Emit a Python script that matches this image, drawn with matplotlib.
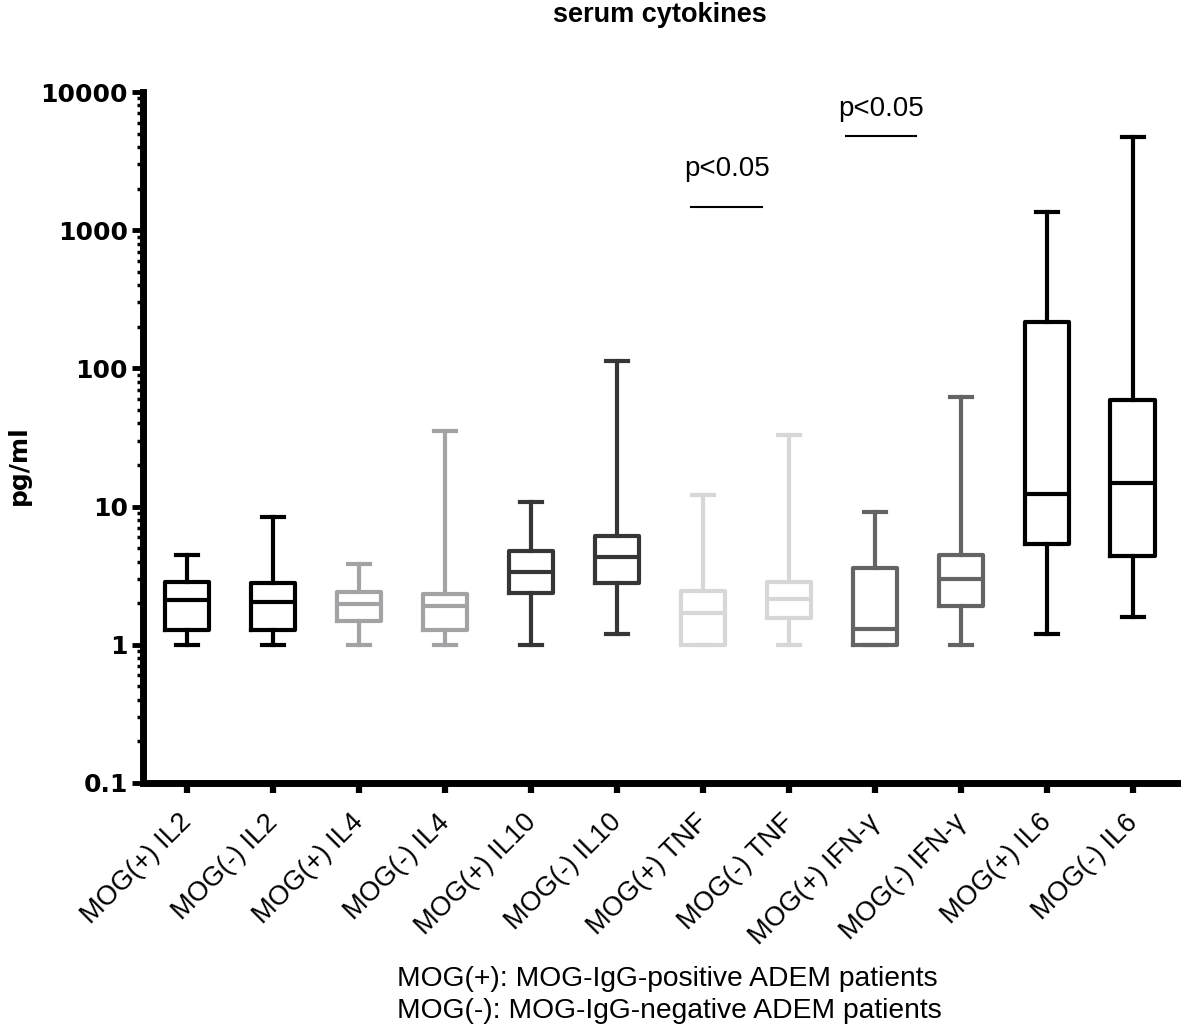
import matplotlib.pyplot as plt
import matplotlib.transforms as mtransforms
from matplotlib.ticker import LogLocator, FixedLocator, NullFormatter

# summary values (pg/ml)
labels = ['MOG(+) IL2', 'MOG(-) IL2', 'MOG(+) IL4', 'MOG(-) IL4',
          'MOG(+) IL10', 'MOG(-) IL10', 'MOG(+) TNF', 'MOG(-) TNF',
          'MOG(+) IFN-γ', 'MOG(-) IFN-γ', 'MOG(+) IL6', 'MOG(-) IL6']
whisker_low = [1.0, 1.0, 1.0, 1.0, 1.0, 1.2, 1.0, 1.0, 1.0, 1.0, 1.2, 1.6]
q1 = [1.28, 1.28, 1.49, 1.28, 2.37, 2.8, 1.0, 1.57, 1.0, 1.91, 5.4, 4.4]
median = [2.11, 2.04, 1.98, 1.91, 3.37, 4.32, 1.70, 2.15, 1.3, 3.0, 12.3, 14.8]
q3 = [2.85, 2.8, 2.41, 2.33, 4.77, 6.1, 2.45, 2.85, 3.6, 4.5, 218, 59]
whisker_high = [4.47, 8.4, 3.84, 35, 10.8, 113, 12.1, 33, 9.1, 62, 1360, 4730]
colors = ['#000000', '#000000', '#a3a3a5', '#a3a3a5', '#363636', '#363636',
          '#d7d7d7', '#d7d7d7', '#646464', '#646464', '#000000', '#000000']

# significance marks: (x start, x end, bar level, text level)
sig_bars = [(6.86, 7.69, 1480, 2780), (8.66, 9.48, 4800, 7540)]
sig_text = 'p<0.05'

footnote = ['MOG(+): MOG-IgG-positive ADEM patients',
            'MOG(-): MOG-IgG-negative ADEM patients']


def main():
    fig = plt.figure(figsize=(11.81, 10.27), dpi=100)
    ax = fig.add_axes([0.1211, 0.2376, 0.8789, 0.6728])

    stats = []
    for i in range(len(labels)):
        stats.append({'whislo': whisker_low[i], 'q1': q1[i], 'med': median[i],
                      'q3': q3[i], 'whishi': whisker_high[i],
                      'fliers': [], 'label': labels[i]})
    positions = list(range(1, len(labels) + 1))
    art = ax.bxp(stats, positions=positions, widths=0.52, capwidths=0.25,
                 showfliers=False, manage_ticks=False,
                 boxprops=dict(linewidth=3, solid_joinstyle='round'),
                 medianprops=dict(linewidth=3),
                 whiskerprops=dict(linewidth=3),
                 capprops=dict(linewidth=3))
    for i, c in enumerate(colors):
        art['boxes'][i].set_color(c)
        art['medians'][i].set_color(c)
        for k in (2 * i, 2 * i + 1):
            art['whiskers'][k].set_color(c)
            art['caps'][k].set_color(c)

    ax.set_yscale('log')
    ax.set_ylim(0.1, 10000)
    ax.set_xlim(0.488, 12.56)

    ax.yaxis.set_major_locator(FixedLocator([0.1, 1, 10, 100, 1000, 10000]))
    ax.set_yticklabels(['0.1', '1', '10', '100', '1000', '10000'],
                       fontsize=18, fontweight='bold', family='DejaVu Sans')
    ax.yaxis.set_minor_locator(LogLocator(base=10, subs=range(2, 10)))
    ax.yaxis.set_minor_formatter(NullFormatter())
    ax.tick_params(axis='y', which='major', length=8, width=3.5, pad=3)
    ax.tick_params(axis='y', which='minor', length=4, width=2.5)

    ax.set_xticks(positions)
    ax.set_xticklabels(labels, rotation=45, ha='right',
                       fontsize=19.5, family='Liberation Sans')
    ax.tick_params(axis='x', which='major', length=7, width=4.5, pad=4)
    ax.tick_params(axis='x', which='minor', length=0)
    shift = mtransforms.ScaledTranslation(0.10, -0.11, fig.dpi_scale_trans)
    for lab in ax.get_xticklabels():
        lab.set_transform(lab.get_transform() + shift)

    for side in ('top', 'right'):
        ax.spines[side].set_visible(False)
    for side in ('left', 'bottom'):
        ax.spines[side].set_linewidth(5)
    ax.spines['bottom'].set_capstyle('butt')

    ax.set_ylabel('pg/ml', fontsize=18, fontweight='bold',
                  family='DejaVu Sans')
    ax.yaxis.set_label_coords(-0.108, 0.46)

    for x0, x1, level, tlevel in sig_bars:
        ax.plot([x0, x1], [level, level], color='black', linewidth=1.5)
        ax.text((x0 + x1) / 2, tlevel, sig_text, ha='center',
                va='center', fontsize=20, family='Liberation Sans')

    fig.text(0.559, 0.985, 'serum cytokines', ha='center', va='center',
             fontsize=19.5, fontweight='bold', family='Liberation Sans')
    fig.text(0.336, 0.047, footnote[0], ha='left', va='center',
             fontsize=20.3, family='Liberation Sans')
    fig.text(0.336, 0.016, footnote[1], ha='left', va='center',
             fontsize=20.3, family='Liberation Sans')

    fig.savefig('out.png', dpi=100)


if __name__ == "__main__":
    main()
